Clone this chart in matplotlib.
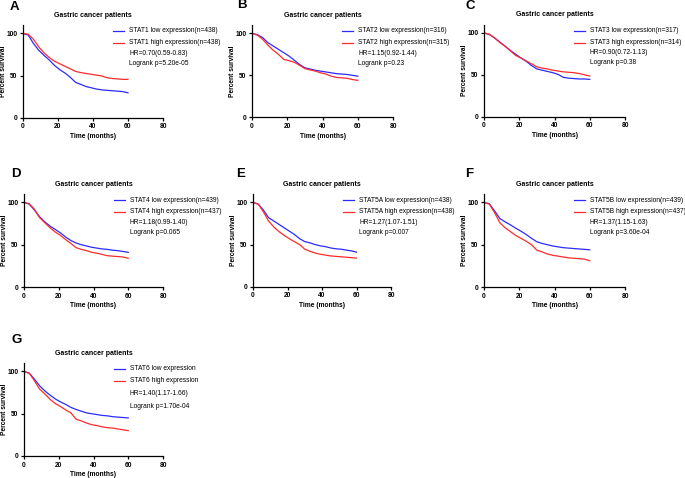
import matplotlib
matplotlib.use("Agg")
import matplotlib.pyplot as plt
from matplotlib.lines import Line2D

plt.rcParams['font.family'] = ['Liberation Sans', 'DejaVu Sans']

W, H = 685, 478

months = [0, 3, 6, 9, 12, 15, 18, 21, 24, 27, 30, 33, 36, 39, 42, 45, 48, 51, 54, 57, 60]

panel_labels = ['A', 'B', 'C', 'D', 'E', 'F', 'G']
genes = ['STAT1', 'STAT2', 'STAT3', 'STAT4', 'STAT5A', 'STAT5B', 'STAT6']
n_low = ['438', '316', '317', '439', '438', '439', None]
n_high = ['438', '315', '314', '437', '438', '437', None]
hr_text = ['HR=0.70(0.59-0.83)', 'HR=1.15(0.92-1.44)', 'HR=0.90(0.72-1.13)',
           'HR=1.18(0.99-1.40)', 'HR=1.27(1.07-1.51)', 'HR=1.37(1.15-1.63)',
           'HR=1.40(1.17-1.66)']
p_text = ['Logrank p=5.20e-05', 'Logrank p=0.23', 'Logrank p=0.38',
          'Logrank p=0.065', 'Logrank p=0.007', 'Logrank p=3.60e-04',
          'Logrank p=1.70e-04']

# survival (%) at the months above
stat1_low = [100, 98, 88, 80, 74, 68.5, 62, 57, 53, 48, 42, 39.5, 37, 35.5, 34, 33, 32.5, 32, 31.5, 31, 29.5]
stat1_high = [100, 99, 93, 84, 77, 71.5, 67, 64, 61, 58, 55, 53.5, 52.5, 51.5, 50.5, 49.5, 47.5, 46.5, 46, 45.5, 45.5]
stat2_low = [100, 98.5, 95, 89, 85, 81, 77, 73, 68, 63, 59, 57.5, 56, 55, 54, 53, 52, 51.5, 51, 50, 49]
stat2_high = [100, 98, 93, 86, 80, 75, 69, 67.5, 65.5, 62, 58, 56.5, 55, 53, 51.5, 49, 47.5, 47, 46.5, 45, 44]
stat3_low = [100, 98, 94, 89, 84, 79, 74.5, 70, 66, 61, 57, 55.5, 54, 52.5, 50.5, 47, 46, 45.5, 45, 45, 44.5]
stat3_high = [100, 98.5, 94, 88.5, 84, 78.5, 73, 70, 66.5, 63, 59.5, 58, 57, 55.5, 54.5, 53.5, 53, 52.5, 51.5, 50, 48.5]
stat4_low = [100, 98, 91, 83, 77, 72, 68, 64, 59, 55, 52, 50, 48.5, 47, 46, 45, 44.5, 43.5, 43, 42, 41]
stat4_high = [100, 98.5, 92, 82, 76, 70, 65, 61, 56, 51.5, 46.5, 44.5, 43, 41, 40, 38.5, 37, 36.5, 36, 35.5, 34]
stat5a_low = [100, 98, 91, 82, 78, 74, 70, 66, 62, 57, 53.5, 52, 50, 48.5, 47.5, 46, 45, 44.5, 43.5, 42.5, 41]
stat5a_high = [100, 98, 89, 78, 71, 65.5, 61, 57, 53.5, 50, 44.5, 42, 40, 38.5, 37.5, 36.5, 36, 35.5, 35, 34.5, 34]
stat5b_low = [100, 98.5, 90, 81, 77, 73.5, 69.5, 66, 62, 57.5, 53.5, 51.5, 50, 48.5, 47.5, 46.5, 46, 45.5, 45, 44.5, 44]
stat5b_high = [100, 98, 88, 76, 70, 65.5, 61, 57.5, 54, 50, 43.5, 41.5, 39, 37.5, 36.5, 35.5, 34.5, 34, 33.5, 33, 31]
stat6_low = [100, 98, 91, 83, 77, 72, 67.5, 64, 61, 57.5, 55, 53, 51, 50, 49, 48, 47.5, 46.5, 46, 45.5, 45]
stat6_high = [100, 98, 89, 79, 73.5, 67, 62, 58.5, 54.5, 51, 43.5, 41.5, 39, 37, 36, 34.5, 33.5, 33, 32, 31, 30]

low_curves = [stat1_low, stat2_low, stat3_low, stat4_low, stat5a_low, stat5b_low, stat6_low]
high_curves = [stat1_high, stat2_high, stat3_high, stat4_high, stat5a_high, stat5b_high, stat6_high]

# axes boxes in pixels: left, top, right, bottom
boxes = [(23, 25, 163, 117.7), (252, 25, 393, 117.3), (484, 24.5, 625, 116.7),
         (24, 194, 163, 287), (253, 194, 391, 286.7), (484, 194, 625, 287),
         (24, 363, 163, 456)]
# label positions (pixels)
label_xy = [(10, 7), (237, 5), (466, 6), (11, 174), (236, 174), (465, 174), (11, 340)]

BLUE = '#2b2bff'
RED = '#ff2b2b'
FS = 4.8

fig = plt.figure(figsize=(W / 100, H / 100), dpi=100)

for i in range(7):
    l, t, r, b = boxes[i]
    ax = fig.add_axes([l / W, 1 - b / H, (r - l) / W, (b - t) / H])
    ax.plot(months, low_curves[i], color=BLUE, lw=0.9)
    ax.plot(months, high_curves[i], color=RED, lw=0.9)
    ax.set_xlim(0, 80)
    ax.set_ylim(0, 110)
    ax.set_xticks([0, 20, 40, 60, 80])
    ax.set_yticks([0, 50, 100])
    for side in ['top', 'right']:
        ax.spines[side].set_visible(False)
    for side in ['left', 'bottom']:
        ax.spines[side].set_linewidth(0.9)
    ax.tick_params(length=2.5, width=0.9, pad=1.5, labelsize=4.8)
    for lab in ax.get_xticklabels() + ax.get_yticklabels():
        lab.set_fontweight('bold')
    ax.set_xlabel('Time (months)', fontsize=4.8, fontweight='bold', labelpad=2)
    ax.set_ylabel('Percent survival', fontsize=4.8, fontweight='bold')
    ax.yaxis.set_label_coords(-16 / (r - l), 0.5)
    ax.set_title('Gastric cancer patients', fontsize=5.0, fontweight='bold', pad=6)

    # legend block drawn by hand to the right of the curves
    if n_low[i]:
        txt_low = f'{genes[i]} low expression(n={n_low[i]})'
        txt_high = f'{genes[i]} high expression(n={n_high[i]})'
    else:
        txt_low = f'{genes[i]} low expression'
        txt_high = f'{genes[i]} high expression'
    rows = [6, 18, 28.5, 38.5] if i < 6 else [6, 18, 30.5, 43]
    x_line0, x_line1, x_txt = l + 90, l + 101, l + 106
    for k, (txt, col) in enumerate([(txt_low, BLUE), (txt_high, RED)]):
        yy = 1 - (t + rows[k]) / H
        fig.add_artist(Line2D([x_line0 / W, x_line1 / W], [yy, yy], color=col, lw=0.9))
        fig.text(x_txt / W, yy, txt, fontsize=FS, va='center', ha='left')
    fig.text(x_txt / W, 1 - (t + rows[2]) / H, hr_text[i], fontsize=FS, va='center', ha='left')
    fig.text(x_txt / W, 1 - (t + rows[3]) / H, p_text[i], fontsize=FS, va='center', ha='left')

    lx, ly = label_xy[i]
    fig.text(lx / W, 1 - ly / H, panel_labels[i], fontsize=9.5, fontweight='bold',
             va='center', ha='left')

fig.savefig('out.png', dpi=100)
